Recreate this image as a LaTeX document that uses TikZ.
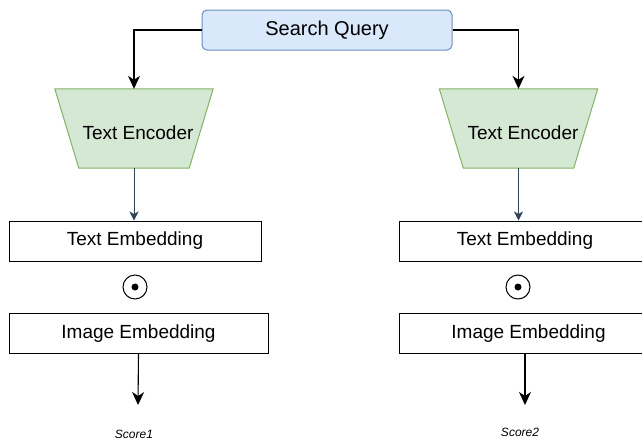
\documentclass[tikz,border=0pt]{standalone}
\usepackage{fontspec}
\setmainfont{Liberation Sans}
\usetikzlibrary{arrows.meta}
\definecolor{qfill}{HTML}{DAE8FC}
\definecolor{qdraw}{HTML}{6C8EBF}
\definecolor{efill}{HTML}{D5E8D4}
\definecolor{edraw}{HTML}{82B366}
\definecolor{slate}{HTML}{314354}
\tikzset{
  querybox/.style={draw=qdraw,fill=qfill,rounded corners=5pt,line width=1pt,minimum width=250pt,minimum height=40pt,inner sep=0pt,font=\fontsize{20}{24}\selectfont},
  encbox/.style={minimum width=158pt,minimum height=79pt,inner sep=0pt},
  embbox/.style={draw=black,line width=1pt,minimum height=40pt,inner sep=0pt,font=\fontsize{19}{23}\selectfont},
  dotop/.style={draw=black,circle,line width=1pt,minimum size=24pt,inner sep=0pt},
  arr/.style={-{Stealth[length=13pt,width=12pt,inset=4pt]},line width=1.1pt},
  slatearr/.style={-{Stealth[length=9pt,width=9pt,inset=2.5pt]},line width=1pt,slate},
  scoretext/.style={font=\fontsize{12}{14}\selectfont\itshape,inner sep=0pt},
}
\newcommand{\encshape}[1]{%
  \draw[draw=edraw,fill=efill,line width=1pt]
    (#1.north west) -- (#1.north east) -- ([xshift=-24pt]#1.south east) -- ([xshift=24pt]#1.south west) -- cycle;}
\begin{document}
\begin{tikzpicture}[x=1pt,y=1pt]
\useasboundingbox (0,0) rectangle (642,-442);
\node[querybox] (q) at (327,-30) {Search Query};
% encoders
\node[encbox] (enc1) at (134,-128.5) {};
\node[encbox] (enc2) at (518.5,-128.5) {};
\encshape{enc1}
\encshape{enc2}
\node[font=\fontsize{19}{23}\selectfont] (enc1t) at (138,-133) {Text Encoder};
\node[font=\fontsize{19}{23}\selectfont] (enc2t) at (523,-133) {Text Encoder};
% embeddings
\node[embbox,minimum width=252pt] (te1) at (135,-241) {Text Embedding};
\node[embbox,minimum width=259pt] (ie1) at (138.5,-333.5) {Image Embedding};
\node[embbox,minimum width=252pt] (te2) at (525,-241) {Text Embedding};
\node[embbox,minimum width=259pt] (ie2) at (528.5,-333.5) {Image Embedding};
\node[dotop] (d1) at (135,-287) {};
\node[dotop] (d2) at (518,-287) {};
\fill (d1.center) circle (3.5pt);
\fill (d2.center) circle (3.5pt);
% scores
\coordinate (a1) at (138,-405);
\coordinate (a2) at (525,-405);
\node[scoretext] (s1) at (134,-434.5) {Score1};
\node[scoretext] (s2) at (520,-432) {Score2};
% connectors
\draw[arr] (q.west) -| (enc1.north);
\draw[arr] (q.east) -| (enc2.north);
\draw[slatearr] (enc1.south) -- (enc1.south |- te1.north);
\draw[slatearr] (enc2.south) -- (enc2.south |- te2.north);
\draw[arr] (ie1.south) -- (a1);
\draw[arr] (ie2.south -| a2) -- (a2);
\end{tikzpicture}
\end{document}
